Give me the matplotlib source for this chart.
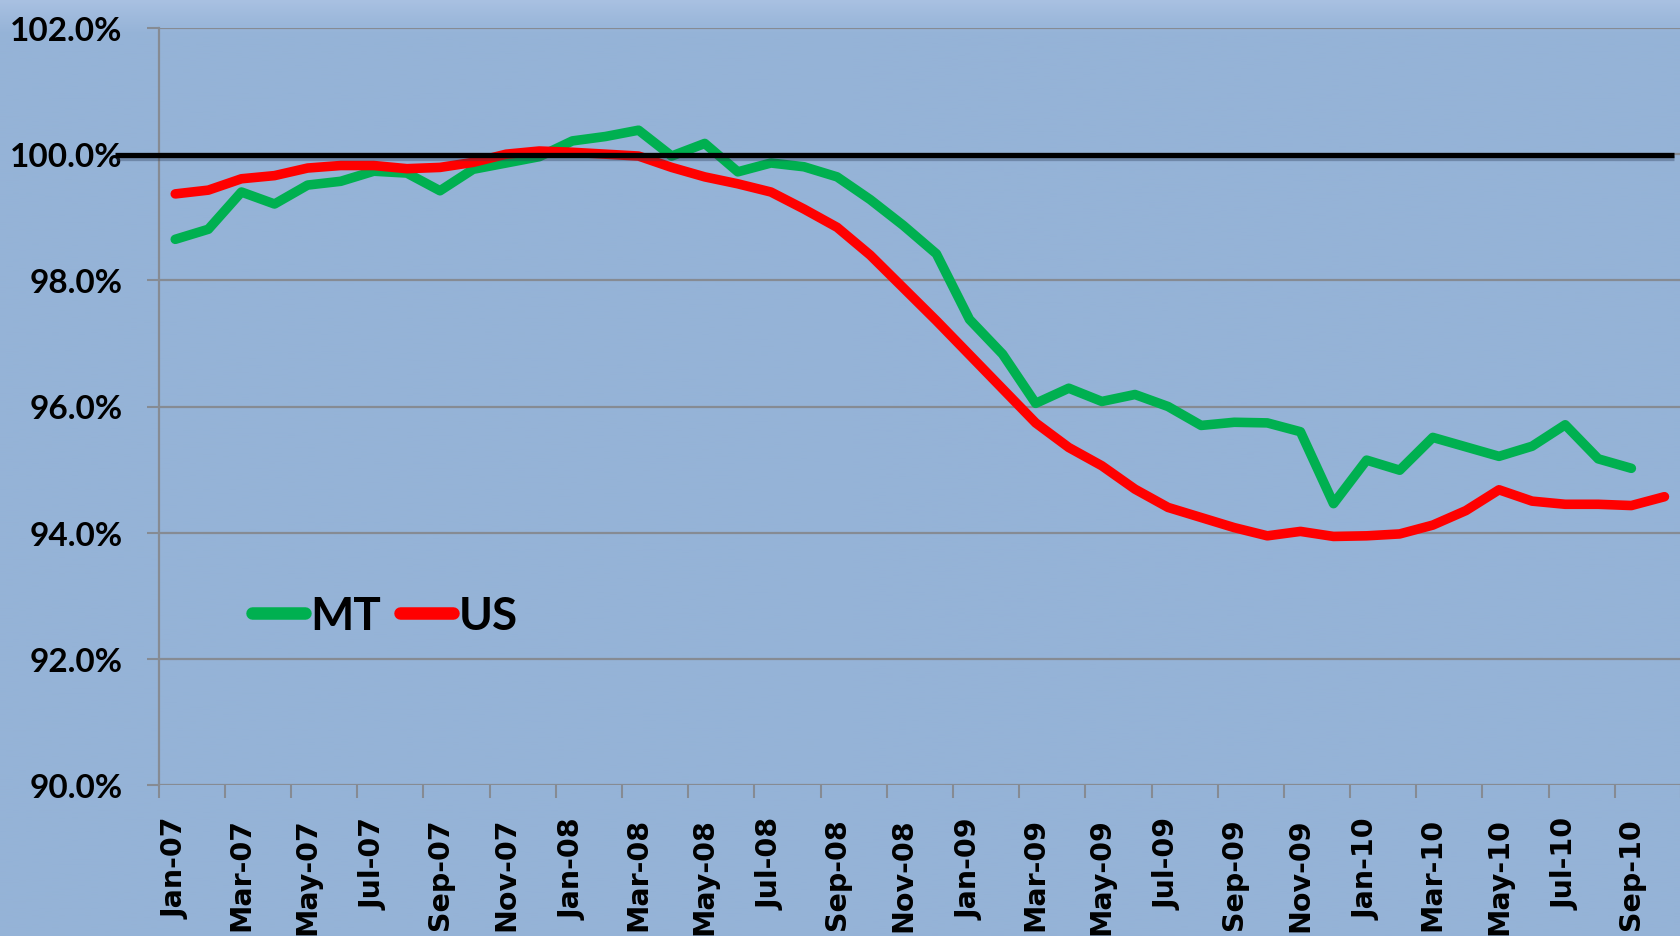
import numpy as np
import matplotlib
matplotlib.use("Agg")
import matplotlib.pyplot as plt
from matplotlib import patheffects as pe
from matplotlib.ticker import FixedLocator, FuncFormatter
from matplotlib.colors import LinearSegmentedColormap

months = ["Jan-07", "Feb-07", "Mar-07", "Apr-07", "May-07", "Jun-07", "Jul-07", "Aug-07",
          "Sep-07", "Oct-07", "Nov-07", "Dec-07", "Jan-08", "Feb-08", "Mar-08", "Apr-08",
          "May-08", "Jun-08", "Jul-08", "Aug-08", "Sep-08", "Oct-08", "Nov-08", "Dec-08",
          "Jan-09", "Feb-09", "Mar-09", "Apr-09", "May-09", "Jun-09", "Jul-09", "Aug-09",
          "Sep-09", "Oct-09", "Nov-09", "Dec-09", "Jan-10", "Feb-10", "Mar-10", "Apr-10",
          "May-10", "Jun-10", "Jul-10", "Aug-10", "Sep-10", "Oct-10"]

mt = [98.65, 98.81, 99.40, 99.21, 99.51, 99.57, 99.73, 99.70, 99.42, 99.76,
      99.86, 99.96, 100.21, 100.28, 100.38, 99.97, 100.17, 99.72, 99.86, 99.80,
      99.64, 99.28, 98.87, 98.42, 97.38, 96.83, 96.05, 96.29, 96.08, 96.19,
      96.00, 95.70, 95.75, 95.74, 95.60, 94.46, 95.15, 94.99, 95.51, 95.36,
      95.21, 95.37, 95.71, 95.17, 95.02]

us = [99.37, 99.43, 99.61, 99.66, 99.78, 99.82, 99.82, 99.77, 99.79, 99.87,
      100.00, 100.05, 100.03, 100.00, 99.97, 99.79, 99.64, 99.53, 99.40, 99.13,
      98.84, 98.40, 97.88, 97.36, 96.82, 96.28, 95.74, 95.35, 95.06, 94.69,
      94.40, 94.24, 94.08, 93.95, 94.02, 93.94, 93.95, 93.98, 94.12, 94.35,
      94.68, 94.50, 94.45, 94.45, 94.43, 94.57]

series_names = ["MT", "US"]
reference_level = 100.0
y_ticks = [90, 92, 94, 96, 98, 100, 102]

W, H = 1681, 937
fig = plt.figure(figsize=(W / 100, H / 100), dpi=100)

# background gradient
bg = fig.add_axes([0, 0, 1, 1], zorder=-10)
bg.set_axis_off()
cmap = LinearSegmentedColormap.from_list("bgc", ["#95b3d7", "#95b3d7", "#a9c1e2"])
grad = np.linspace(0, 1, 400).reshape(-1, 1)
grad = np.clip((grad - 0.9) / 0.1, 0, 1) ** 1.5
bg.imshow(grad, aspect="auto", cmap=cmap, extent=[0, 1, 0, 1], origin="lower", vmin=0, vmax=1)

left = 158.7 / W
bottom = 1 - 786 / H
top = 1 - 29 / H
ax = fig.add_axes([left, bottom, 1 - left, top - bottom])
ax.set_facecolor("none")

x_mt = np.arange(len(mt))
x_us = np.arange(len(us))
lw = 6.9
ax.plot(x_mt, mt, color="#00b050", lw=lw, solid_capstyle="round", solid_joinstyle="round",
        label=series_names[0], zorder=3)
ax.plot(x_us, us, color="#ff0000", lw=lw, solid_capstyle="round", solid_joinstyle="round",
        label=series_names[1], zorder=4)

ax.plot([-1.82, 45.28], [reference_level - 0.02] * 2, color="black", lw=3.8, clip_on=False,
        zorder=6, solid_capstyle="butt",
        path_effects=[pe.SimpleLineShadow(offset=(0.5, -2.0), shadow_color="#2a3a55", alpha=0.35),
                      pe.Normal()])

ax.set_xlim(-0.5, len(months) - 0.5)
ax.set_ylim(90, 102)

grid_c = "#868b93"
ax.set_yticks(y_ticks)
ax.yaxis.set_major_formatter(FuncFormatter(lambda v, p: f"{v:.1f}%"))
ax.grid(axis="y", color=grid_c, lw=1.6, zorder=1)
ax.set_axisbelow(True)

label_idx = list(range(0, len(months), 2))
ax.set_xticks(label_idx)
ax.set_xticklabels([months[i] for i in label_idx], rotation=90,
                   fontfamily="DejaVu Sans", fontweight="bold", fontsize=20.5)
ax.xaxis.set_minor_locator(FixedLocator(np.arange(-0.5, len(months), 2)))
ax.tick_params(axis="x", which="major", length=0, pad=23)
ax.tick_params(axis="x", which="minor", length=9, width=1.5, color=grid_c, direction="out")
ax.tick_params(axis="y", which="major", length=9, width=1.5, color=grid_c, pad=17)
for t in ax.get_yticklabels():
    t.set_fontfamily("Lato")
    t.set_fontweight("bold")
    t.set_fontsize(24)

for s in ["top", "right", "bottom"]:
    ax.spines[s].set_visible(False)
ax.spines["left"].set_color(grid_c)
ax.spines["left"].set_linewidth(1.6)

leg = ax.legend(loc="center left", bbox_to_anchor=(252 / W, 1 - 617 / H),
                bbox_transform=fig.transFigure, ncol=2, frameon=False,
                handlelength=1.15, handletextpad=0.12, columnspacing=0.42,
                borderpad=0, borderaxespad=0,
                prop={"family": "Lato", "weight": "bold", "size": 33})
for h in leg.get_lines():
    h.set_linewidth(9)
    h.set_solid_capstyle("round")

fig.savefig("out.png", dpi=100, facecolor="#95b3d7")
